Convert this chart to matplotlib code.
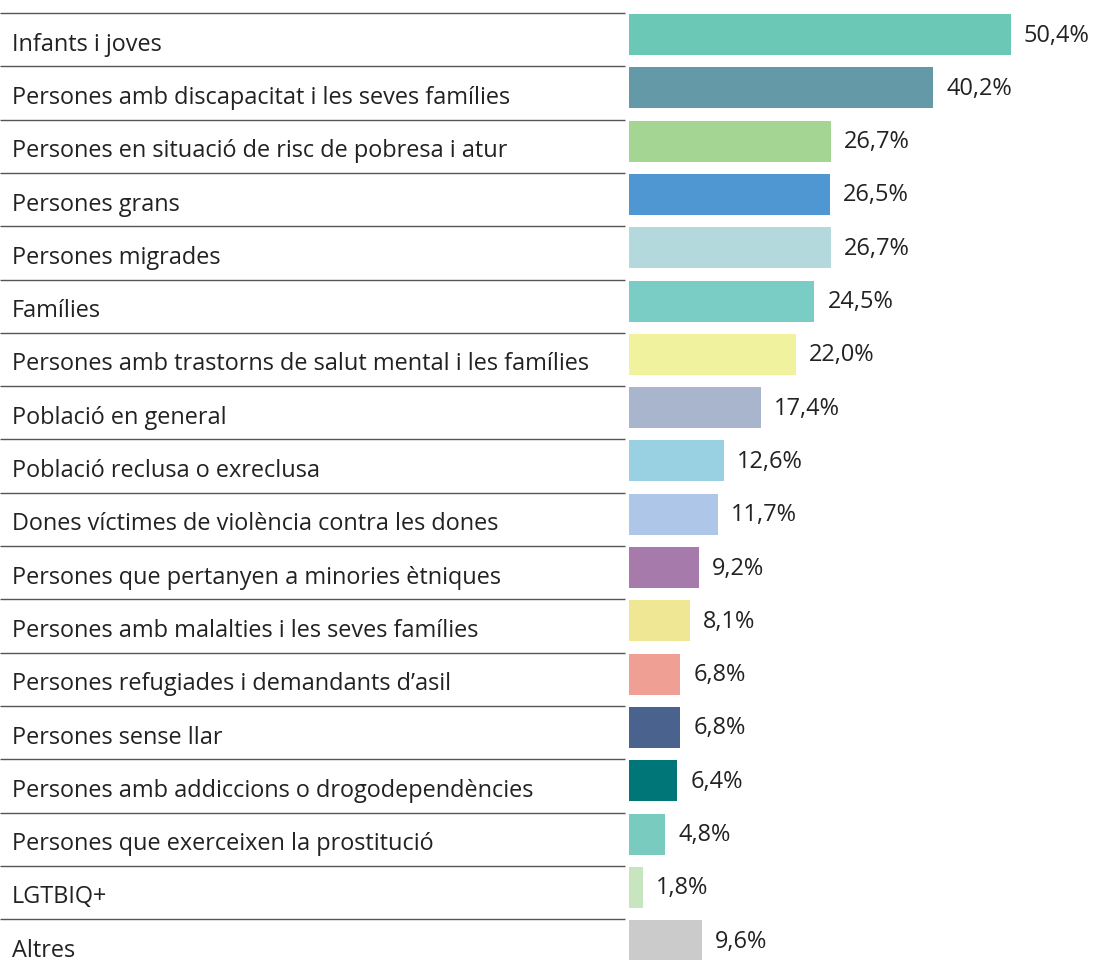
import matplotlib.pyplot as plt
import numpy as np

categories = [
    "Infants i joves",
    "Persones amb discapacitat i les seves famílies",
    "Persones en situació de risc de pobresa i atur",
    "Persones grans",
    "Persones migrades",
    "Famílies",
    "Persones amb trastorns de salut mental i les famílies",
    "Població en general",
    "Població reclusa o exreclusa",
    "Dones víctimes de violència contra les dones",
    "Persones que pertanyen a minories ètniques",
    "Persones amb malalties i les seves famílies",
    "Persones refugiades i demandants d’asil",
    "Persones sense llar",
    "Persones amb addiccions o drogodependències",
    "Persones que exerceixen la prostitució",
    "LGTBIQ+",
    "Altres",
]
values = [50.4, 40.2, 26.7, 26.5, 26.7, 24.5, 22.0, 17.4, 12.6, 11.7,
          9.2, 8.1, 6.8, 6.8, 6.4, 4.8, 1.8, 9.6]
colors = ["#6cc8b6", "#6499a8", "#a5d593", "#4f97d2", "#b4d9dc", "#79cdc4",
          "#f0f29e", "#a9b5cc", "#99d1e3", "#aec6e8", "#a67aaa", "#efe793",
          "#ef9f93", "#4a638e", "#007678", "#79cbc0", "#c7e5bf", "#cbcbcb"]

plt.rcParams['font.family'] = ['Open Sans', 'DejaVu Sans']

W, H = 1106, 960
fig = plt.figure(figsize=(W / 100, H / 100), dpi=100)
ax = fig.add_axes([0, 0, 1, 1])

# pixel mapping: value 0 at x=629 px, 7.57 px per percent; rows 53.3 px apart
px_per_unit = 7.57
x0 = 629
row_h = 53.3
c0 = 34.5
ax.set_xlim(-x0 / px_per_unit, (W - x0) / px_per_unit)
ax.set_ylim((H - c0) / row_h, -c0 / row_h)

y = np.arange(len(categories))
ax.barh(y, values, height=41 / row_h, color=colors)

left = -x0 / px_per_unit
ax.hlines(y - 21.5 / row_h, left, -4 / px_per_unit, color="#555555", lw=1.0)

for i, (cat, v) in enumerate(zip(categories, values)):
    ax.text(left + 12 / px_per_unit, i + 0.19, cat, fontsize=16.9,
            color="#222222", va="center", ha="left")
    ax.text(v + 13 / px_per_unit, i + 0.02, f"{v:.1f}%".replace(".", ","),
            fontsize=16.9, color="#222222", va="center", ha="left")

ax.axis("off")
fig.savefig("out.png", dpi=100)
